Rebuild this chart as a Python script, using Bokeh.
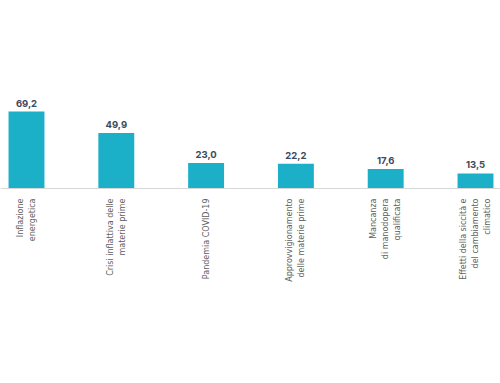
from bokeh.plotting import figure
from bokeh.models import Range1d, ColumnDataSource, Span
from bokeh.core.properties import value
from bokeh.embed import file_html
from bokeh.resources import INLINE
import math

categories = [
    "Inflazione\nenergetica",
    "Crisi inflattiva delle\nmaterie prime",
    "Pandemia COVID-19",
    "Approvvigionamento\ndelle materie prime",
    "Mancanza\ndi manodopera\nqualificata",
    "Effetti della siccità e\ndel cambiamento\nclimatico",
]
values = [69.2, 49.9, 23.0, 22.2, 17.6, 13.5]
value_labels = ["69,2", "49,9", "23,0", "22,2", "17,6", "13,5"]

xs = list(range(len(categories)))
src = ColumnDataSource(dict(x=xs, v=values, lab=value_labels, cat=categories, zero=[0] * len(xs)))

W, H = 500, 383
px_per_cat = 89.8
x0 = -26 / px_per_cat
x_range = Range1d(x0, x0 + W / px_per_cat)
py = 77 / 69.2
y_range = Range1d(-(H - 188) / py, 188 / py)

p = figure(width=W, height=H, x_range=x_range, y_range=y_range,
           output_backend="svg", toolbar_location=None, min_border=0)
p.axis.visible = False
p.grid.visible = False
p.outline_line_color = None
p.background_fill_color = "white"

p.vbar(x="x", top="v", width=0.4, source=src, fill_color="#1cb0c8", line_color=None)
p.add_layout(Span(location=0, dimension="width", line_color="#d8d8d8", line_width=1))

p.text(x="x", y="v", text="lab", source=src, y_offset=-5,
       text_align="center", text_baseline="bottom",
       text_font=value("Inter"), text_font_style="bold", text_font_size="9.5px",
       text_color="#3b4a5e")

p.text(x="x", y="zero", text="cat", source=src, y_offset=10, angle=math.pi / 2,
       text_align="right", text_baseline="middle",
       text_font=value("DejaVu Sans"), text_font_size="8px", text_color="#606060",
       text_line_height=1.35)

open("out.html", "w").write(file_html(p, INLINE))
